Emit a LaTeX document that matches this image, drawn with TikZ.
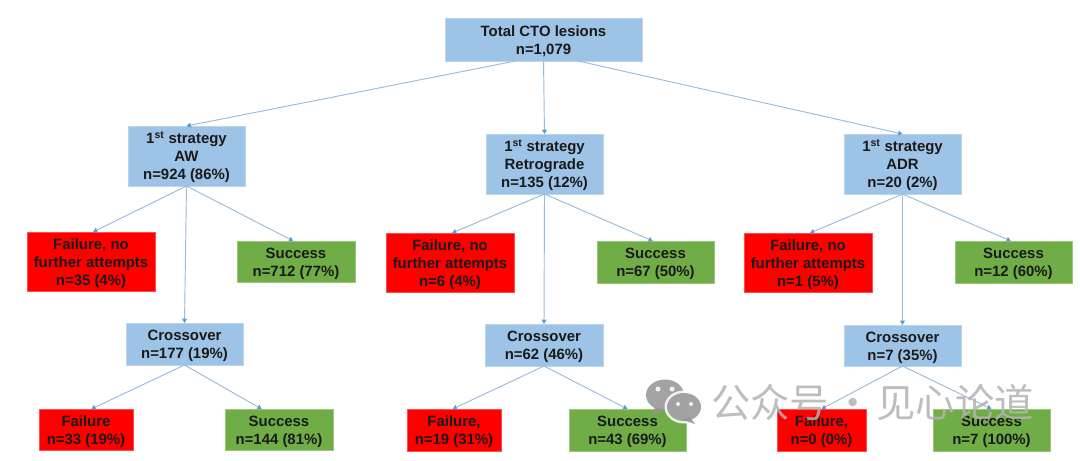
\documentclass[tikz,border=0pt]{standalone}
\usepackage{fontspec}
\setmainfont{Liberation Sans}
\newfontfamily\cjkmark{Noto Sans CJK SC}
\definecolor{stratblue}{HTML}{9DC3E6}
\definecolor{failred}{HTML}{FF0000}
\definecolor{okgreen}{HTML}{70AD47}
\definecolor{linkblue}{HTML}{9ABBD9}
\definecolor{tipblue}{HTML}{5B9BD5}
\definecolor{textdark}{HTML}{1A1A1A}
\usetikzlibrary{arrows.meta}
\tikzset{
  x=0.75pt, y=-0.75pt,
  box/.style={rectangle, inner sep=0pt, outer sep=0pt, align=center, text=textdark,
    font=\fontsize{11.2pt}{13.5pt}\selectfont\bfseries, anchor=north west},
  stratbox/.style={box, fill=stratblue, draw=stratblue!70!white, line width=0.4pt},
  failbox/.style={box, fill=failred, draw=failred!70!white, line width=0.4pt},
  okbox/.style={box, fill=okgreen, draw=okgreen!70!white, line width=0.4pt},
  link/.style={draw=linkblue, line width=0.7pt, -{Triangle[length=3.2pt,width=3.6pt,color=tipblue,fill=tipblue]}},
}
% The strut on the first line sets the text a little below the box centre
\newcommand{\boxat}[7]{% style, name, left, top, right, bottom, text
  \node[#1, minimum width={(#5-#3)*0.75pt}, minimum height={(#6-#4)*0.75pt}] (#2) at (#3,#4) {\rule{0pt}{10.7pt}#7};}
\newcommand{\firstst}{1\textsuperscript{st} strategy}
\begin{document}
\begin{tikzpicture}
\useasboundingbox (0,0) rectangle (1080,460);
\fill[white] (0,0) rectangle (1080,460);

% Root and the three first strategies
\boxat{stratbox}{total}{445}{18}{642}{61}{Total CTO lesions\\n=1,079}
\boxat{stratbox}{aw}{128}{126}{245}{186}{\firstst\\AW\\n=924 (86\%)}
\boxat{stratbox}{retro}{486}{134}{603}{194}{\firstst\\Retrograde\\n=135 (12\%)}
\boxat{stratbox}{adr}{844}{134}{961}{194}{\firstst\\ADR\\n=20 (2\%)}

% AW branch
\boxat{failbox}{awfail}{27}{232}{155}{291}{Failure, no\\further attempts\\n=35 (4\%)}
\boxat{okbox}{awok}{237}{241}{355}{282}{Success\\n=712 (77\%)}
\boxat{stratbox}{awx}{126}{323}{243}{365}{Crossover\\n=177 (19\%)}
\boxat{failbox}{awxfail}{39}{409}{133}{450}{Failure\\n=33 (19\%)}
\boxat{okbox}{awxok}{225}{409}{333}{450}{Success\\n=144 (81\%)}

% Retrograde branch
\boxat{failbox}{refail}{386}{233}{514}{292}{Failure, no\\further attempts\\n=6 (4\%)}
\boxat{okbox}{reok}{597}{241}{714}{283}{Success\\n=67 (50\%)}
\boxat{stratbox}{rex}{485}{324}{603}{366}{Crossover\\n=62 (46\%)}
\boxat{failbox}{rexfail}{407}{409}{501}{451}{Failure,\\n=19 (31\%)}
\boxat{okbox}{rexok}{569}{409}{686}{451}{Success\\n=43 (69\%)}

% ADR branch
\boxat{failbox}{adfail}{744}{233}{872}{292}{Failure, no\\further attempts\\n=1 (5\%)}
\boxat{okbox}{adok}{955}{241}{1072}{283}{Success\\n=12 (60\%)}
\boxat{stratbox}{adx}{844}{325}{961}{366}{Crossover\\n=7 (35\%)}
\boxat{failbox}{adxfail}{777}{409}{866}{451}{Failure,\\n=0 (0\%)}
\boxat{okbox}{adxok}{933}{409}{1050}{451}{Success\\n=7 (100\%)}

% Connectors
\draw[link] ([xshift=-21pt]total.south) -- (aw.north);
\draw[link] (total.south) -- (retro.north);
\draw[link] ([xshift=26pt]total.south) -- (adr.north);

\draw[link] (aw.south) -- ([xshift=1.5pt]awfail.north);
\draw[link] (aw.south) -- (awx.north);
\draw[link] (aw.south) -- ([xshift=-2pt]awok.north);
\draw[link] (awx.south) -- ([xshift=4pt]awxfail.north);
\draw[link] (awx.south) -- ([xshift=-13pt]awxok.north);

\draw[link] (retro.south) -- ([xshift=1.5pt]refail.north);
\draw[link] (retro.south) -- (rex.north);
\draw[link] (retro.south) -- ([xshift=-2pt]reok.north);
\draw[link] (rex.south) -- ([xshift=-1pt]rexfail.north);
\draw[link] (rex.south) -- (rexok.north);

\draw[link] (adr.south) -- ([xshift=1.5pt]adfail.north);
\draw[link] (adr.south) -- (adx.north);
\draw[link] (adr.south) -- ([xshift=-2pt]adok.north);
\draw[link] (adx.south) -- (adxfail.north);
\draw[link] (adx.south) -- (adxok.north);

% Channel mark: two speech bubbles and the account name
\begin{scope}[opacity=0.85]
  \fill[black!42] (665,395) ellipse (19 and 15.5);
  \fill[black!42] (655,407) -- (652,416) -- (664,410) -- cycle;
  \fill[white] (684,407) ellipse (19.5 and 16.5);
  \fill[black!42] (684,407) ellipse (17 and 14);
  \fill[black!42] (690,417) -- (695,424) -- (683,420) -- cycle;
  \fill[white] (658,389) circle (2.5) (672,389) circle (2.5);
  \fill[white] (678,404) circle (2) (691,404) circle (2);
\end{scope}
\node[anchor=west, inner sep=0pt, text=black!30, opacity=0.85, font=\cjkmark\fontsize{29.5pt}{32pt}\selectfont] (mark) at (711,402) {公众号\hspace{3pt}·\hspace{3pt}见心论道};
\end{tikzpicture}
\end{document}
